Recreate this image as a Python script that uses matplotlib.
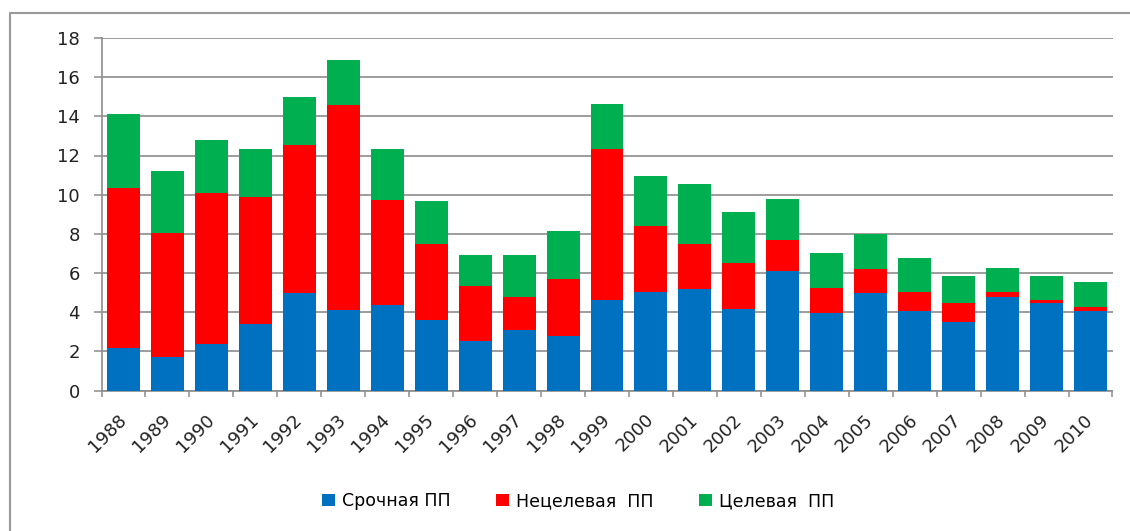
import matplotlib.pyplot as plt
import numpy as np
from matplotlib.lines import Line2D
from matplotlib.ticker import FixedLocator

# data
years = ['1988', '1989', '1990', '1991', '1992', '1993', '1994', '1995', '1996', '1997', '1998', '1999',
         '2000', '2001', '2002', '2003', '2004', '2005', '2006', '2007', '2008', '2009', '2010']
urgent = [2.15, 1.7, 2.35, 3.4, 5.0, 4.1, 4.35, 3.6, 2.55, 3.1, 2.8, 4.6,
          5.05, 5.2, 4.15, 6.1, 3.95, 5.0, 4.05, 3.5, 4.8, 4.45, 4.05]
nontarget = [8.2, 6.35, 7.75, 6.5, 7.55, 10.5, 5.4, 3.9, 2.8, 1.7, 2.9, 7.75,
             3.35, 2.3, 2.35, 1.6, 1.3, 1.2, 1.0, 0.95, 0.25, 0.17, 0.2]
target = [3.75, 3.15, 2.7, 2.45, 2.45, 2.3, 2.6, 2.2, 1.55, 2.1, 2.45, 2.3,
          2.55, 3.05, 2.6, 2.1, 1.75, 1.8, 1.7, 1.4, 1.2, 1.25, 1.3]
labels = ['Срочная ПП', 'Нецелевая  ПП', 'Целевая  ПП']
colors = ['#0070C0', '#FF0000', '#00B050']

gray = '#8c8c8c'
plt.rcParams['font.family'] = ['DejaVu Sans']

fig = plt.figure(figsize=(11.3, 5.31), dpi=100)
ax = fig.add_axes([101.5 / 1130, 1 - 390.5 / 531, 1011 / 1130, 352.5 / 531])

x = np.arange(len(years))
u = np.array(urgent)
n = np.array(nontarget)
t = np.array(target)
w = 0.75
ax.bar(x, u, w, color=colors[0], label=labels[0], zorder=3)
ax.bar(x, n, w, bottom=u, color=colors[1], label=labels[1], zorder=3)
ax.bar(x, t, w, bottom=u + n, color=colors[2], label=labels[2], zorder=3)

ax.set_xlim(-0.5, len(years) - 0.5)
ax.set_ylim(0, 18)
ax.set_yticks(range(0, 19, 2))
ax.yaxis.grid(True, color=gray, linewidth=1.2, zorder=0)
ax.tick_params(axis='y', length=5.5, width=1.1, color=gray, pad=10, labelsize=13, labelcolor='#222222')

ax.set_xticks(x)
ax.set_xticklabels(years)
ax.xaxis.set_minor_locator(FixedLocator(np.arange(-0.5, len(years), 1)))
ax.tick_params(axis='x', which='major', length=0, pad=19, labelsize=13, labelcolor='#222222')
ax.tick_params(axis='x', which='minor', length=4.5, width=1.1, color=gray)
for lab in ax.get_xticklabels():
    lab.set_rotation(45)
    lab.set_ha('right')
    lab.set_va('center')
    lab.set_rotation_mode('anchor')

for s in ['top', 'right']:
    ax.spines[s].set_visible(False)
for s in ['left', 'bottom']:
    ax.spines[s].set_color(gray)
    ax.spines[s].set_linewidth(1.2)

ax.legend(loc='center', bbox_to_anchor=(578 / 1130, 1 - 501 / 531), bbox_transform=fig.transFigure,
          ncol=3, frameon=False, fontsize=12.5, handlelength=0.75, handleheight=0.75,
          handletextpad=0.4, columnspacing=2.6)

# outer chart frame (left and top edges visible)
fig.add_artist(Line2D([9.5 / 1130, 9.5 / 1130, 1.0], [0.0, 1 - 13 / 531, 1 - 13 / 531],
                      transform=fig.transFigure, color='#9a9a9a', linewidth=1.5))

fig.savefig('out.png', dpi=100)
